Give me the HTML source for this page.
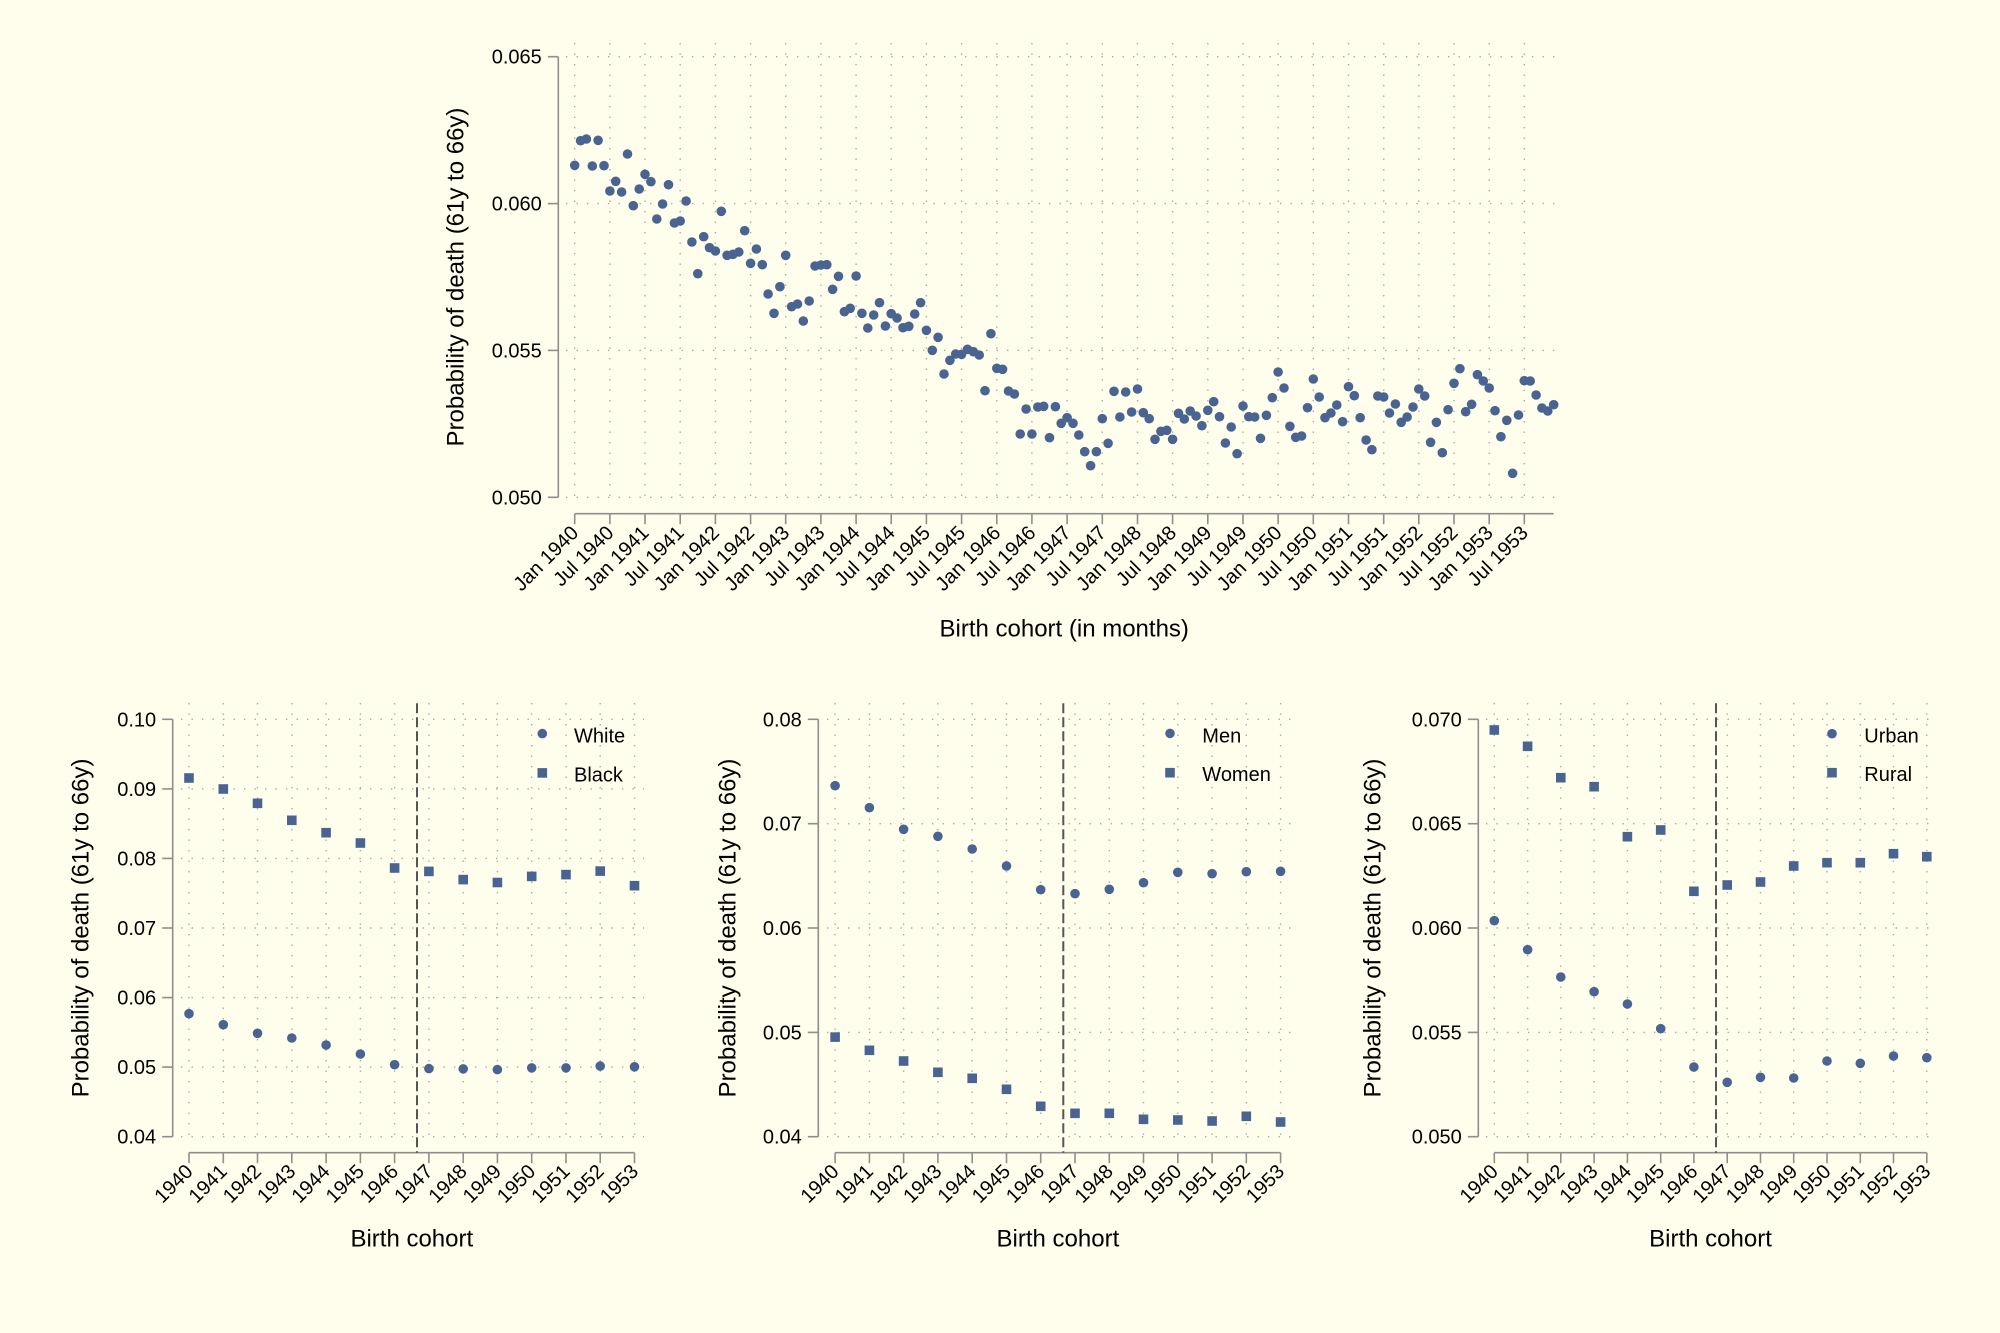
<!DOCTYPE html>
<html><head><meta charset="utf-8"><style>
html,body{margin:0;padding:0;background:#fffeec;}
svg{display:block;font-family:"Liberation Sans",Arial,sans-serif;}
.g line{stroke:#a8a8a8;stroke-width:1.4;stroke-dasharray:1.4 9.1;}
.ax line{stroke:#8e8e8e;stroke-width:1.6;}
.tk{font-size:20px;fill:#000;}
.tt{font-size:24px;fill:#000;}
.dash{stroke:#555;stroke-width:2;stroke-dasharray:10 4;}
</style></head><body>
<svg width="2000" height="1333" viewBox="0 0 2000 1333" xmlns="http://www.w3.org/2000/svg">
<rect width="2000" height="1333" fill="#fffeec"/>

<!-- ================= TOP PLOT ================= -->
<g class="g">
<line x1="566" y1="56.7" x2="1563" y2="56.7"/><line x1="566" y1="203.6" x2="1563" y2="203.6"/><line x1="566" y1="350.4" x2="1563" y2="350.4"/><line x1="566" y1="497.3" x2="1563" y2="497.3"/>
<line x1="574.7" y1="43" x2="574.7" y2="503"/><line x1="609.9" y1="43" x2="609.9" y2="503"/><line x1="645.0" y1="43" x2="645.0" y2="503"/><line x1="680.2" y1="43" x2="680.2" y2="503"/><line x1="715.4" y1="43" x2="715.4" y2="503"/><line x1="750.6" y1="43" x2="750.6" y2="503"/><line x1="785.7" y1="43" x2="785.7" y2="503"/><line x1="820.9" y1="43" x2="820.9" y2="503"/><line x1="856.1" y1="43" x2="856.1" y2="503"/><line x1="891.2" y1="43" x2="891.2" y2="503"/><line x1="926.4" y1="43" x2="926.4" y2="503"/><line x1="961.6" y1="43" x2="961.6" y2="503"/><line x1="996.8" y1="43" x2="996.8" y2="503"/><line x1="1031.9" y1="43" x2="1031.9" y2="503"/><line x1="1067.1" y1="43" x2="1067.1" y2="503"/><line x1="1102.3" y1="43" x2="1102.3" y2="503"/><line x1="1137.5" y1="43" x2="1137.5" y2="503"/><line x1="1172.6" y1="43" x2="1172.6" y2="503"/><line x1="1207.8" y1="43" x2="1207.8" y2="503"/><line x1="1243.0" y1="43" x2="1243.0" y2="503"/><line x1="1278.1" y1="43" x2="1278.1" y2="503"/><line x1="1313.3" y1="43" x2="1313.3" y2="503"/><line x1="1348.5" y1="43" x2="1348.5" y2="503"/><line x1="1383.7" y1="43" x2="1383.7" y2="503"/><line x1="1418.8" y1="43" x2="1418.8" y2="503"/><line x1="1454.0" y1="43" x2="1454.0" y2="503"/><line x1="1489.2" y1="43" x2="1489.2" y2="503"/><line x1="1524.3" y1="43" x2="1524.3" y2="503"/>
</g>
<g class="ax">
<line x1="558.3" y1="56.7" x2="558.3" y2="497.3"/>
<line x1="547.8" y1="56.7" x2="558.3" y2="56.7"/><line x1="547.8" y1="203.6" x2="558.3" y2="203.6"/><line x1="547.8" y1="350.4" x2="558.3" y2="350.4"/><line x1="547.8" y1="497.3" x2="558.3" y2="497.3"/>
<line x1="574.7" y1="513.7" x2="1553.7" y2="513.7"/>
<line x1="574.7" y1="513.7" x2="574.7" y2="524.2"/><line x1="609.9" y1="513.7" x2="609.9" y2="524.2"/><line x1="645.0" y1="513.7" x2="645.0" y2="524.2"/><line x1="680.2" y1="513.7" x2="680.2" y2="524.2"/><line x1="715.4" y1="513.7" x2="715.4" y2="524.2"/><line x1="750.6" y1="513.7" x2="750.6" y2="524.2"/><line x1="785.7" y1="513.7" x2="785.7" y2="524.2"/><line x1="820.9" y1="513.7" x2="820.9" y2="524.2"/><line x1="856.1" y1="513.7" x2="856.1" y2="524.2"/><line x1="891.2" y1="513.7" x2="891.2" y2="524.2"/><line x1="926.4" y1="513.7" x2="926.4" y2="524.2"/><line x1="961.6" y1="513.7" x2="961.6" y2="524.2"/><line x1="996.8" y1="513.7" x2="996.8" y2="524.2"/><line x1="1031.9" y1="513.7" x2="1031.9" y2="524.2"/><line x1="1067.1" y1="513.7" x2="1067.1" y2="524.2"/><line x1="1102.3" y1="513.7" x2="1102.3" y2="524.2"/><line x1="1137.5" y1="513.7" x2="1137.5" y2="524.2"/><line x1="1172.6" y1="513.7" x2="1172.6" y2="524.2"/><line x1="1207.8" y1="513.7" x2="1207.8" y2="524.2"/><line x1="1243.0" y1="513.7" x2="1243.0" y2="524.2"/><line x1="1278.1" y1="513.7" x2="1278.1" y2="524.2"/><line x1="1313.3" y1="513.7" x2="1313.3" y2="524.2"/><line x1="1348.5" y1="513.7" x2="1348.5" y2="524.2"/><line x1="1383.7" y1="513.7" x2="1383.7" y2="524.2"/><line x1="1418.8" y1="513.7" x2="1418.8" y2="524.2"/><line x1="1454.0" y1="513.7" x2="1454.0" y2="524.2"/><line x1="1489.2" y1="513.7" x2="1489.2" y2="524.2"/><line x1="1524.3" y1="513.7" x2="1524.3" y2="524.2"/>
</g>
<g class="tk" text-anchor="end">
<text x="541.8" y="63.7">0.065</text><text x="541.8" y="210.6">0.060</text><text x="541.8" y="357.4">0.055</text><text x="541.8" y="504.3">0.050</text>
</g>
<g class="tk" text-anchor="end">
<text x="574.7" y="529" dy="0.35em" transform="rotate(-45 574.7 529)">Jan 1940</text>
<text x="609.9" y="529" dy="0.35em" transform="rotate(-45 609.9 529)">Jul 1940</text>
<text x="645.0" y="529" dy="0.35em" transform="rotate(-45 645.0 529)">Jan 1941</text>
<text x="680.2" y="529" dy="0.35em" transform="rotate(-45 680.2 529)">Jul 1941</text>
<text x="715.4" y="529" dy="0.35em" transform="rotate(-45 715.4 529)">Jan 1942</text>
<text x="750.6" y="529" dy="0.35em" transform="rotate(-45 750.6 529)">Jul 1942</text>
<text x="785.7" y="529" dy="0.35em" transform="rotate(-45 785.7 529)">Jan 1943</text>
<text x="820.9" y="529" dy="0.35em" transform="rotate(-45 820.9 529)">Jul 1943</text>
<text x="856.1" y="529" dy="0.35em" transform="rotate(-45 856.1 529)">Jan 1944</text>
<text x="891.2" y="529" dy="0.35em" transform="rotate(-45 891.2 529)">Jul 1944</text>
<text x="926.4" y="529" dy="0.35em" transform="rotate(-45 926.4 529)">Jan 1945</text>
<text x="961.6" y="529" dy="0.35em" transform="rotate(-45 961.6 529)">Jul 1945</text>
<text x="996.8" y="529" dy="0.35em" transform="rotate(-45 996.8 529)">Jan 1946</text>
<text x="1031.9" y="529" dy="0.35em" transform="rotate(-45 1031.9 529)">Jul 1946</text>
<text x="1067.1" y="529" dy="0.35em" transform="rotate(-45 1067.1 529)">Jan 1947</text>
<text x="1102.3" y="529" dy="0.35em" transform="rotate(-45 1102.3 529)">Jul 1947</text>
<text x="1137.5" y="529" dy="0.35em" transform="rotate(-45 1137.5 529)">Jan 1948</text>
<text x="1172.6" y="529" dy="0.35em" transform="rotate(-45 1172.6 529)">Jul 1948</text>
<text x="1207.8" y="529" dy="0.35em" transform="rotate(-45 1207.8 529)">Jan 1949</text>
<text x="1243.0" y="529" dy="0.35em" transform="rotate(-45 1243.0 529)">Jul 1949</text>
<text x="1278.1" y="529" dy="0.35em" transform="rotate(-45 1278.1 529)">Jan 1950</text>
<text x="1313.3" y="529" dy="0.35em" transform="rotate(-45 1313.3 529)">Jul 1950</text>
<text x="1348.5" y="529" dy="0.35em" transform="rotate(-45 1348.5 529)">Jan 1951</text>
<text x="1383.7" y="529" dy="0.35em" transform="rotate(-45 1383.7 529)">Jul 1951</text>
<text x="1418.8" y="529" dy="0.35em" transform="rotate(-45 1418.8 529)">Jan 1952</text>
<text x="1454.0" y="529" dy="0.35em" transform="rotate(-45 1454.0 529)">Jul 1952</text>
<text x="1489.2" y="529" dy="0.35em" transform="rotate(-45 1489.2 529)">Jan 1953</text>
<text x="1524.3" y="529" dy="0.35em" transform="rotate(-45 1524.3 529)">Jul 1953</text>
</g>
<text class="tt" x="1064.2" y="636.7" text-anchor="middle">Birth cohort (in months)</text>
<text class="tt" x="463.3" y="277" text-anchor="middle" transform="rotate(-90 463.3 277)">Probability of death (61y to 66y)</text>

<g fill="#4a6491">
<circle cx="574.7" cy="165.3" r="4.8"/><circle cx="580.6" cy="140.7" r="4.8"/><circle cx="586.4" cy="139" r="4.8"/><circle cx="592.3" cy="166" r="4.8"/><circle cx="598.1" cy="140.3" r="4.8"/><circle cx="604.0" cy="165.7" r="4.8"/><circle cx="609.9" cy="191" r="4.8"/><circle cx="615.7" cy="181.3" r="4.8"/><circle cx="621.6" cy="192" r="4.8"/><circle cx="627.5" cy="154" r="4.8"/>
<circle cx="633.3" cy="205.7" r="4.8"/><circle cx="639.2" cy="189" r="4.8"/><circle cx="645.0" cy="174.3" r="4.8"/><circle cx="650.9" cy="181.7" r="4.8"/><circle cx="656.8" cy="219" r="4.8"/><circle cx="662.6" cy="204" r="4.8"/><circle cx="668.5" cy="184.7" r="4.8"/><circle cx="674.4" cy="223" r="4.8"/><circle cx="680.2" cy="221" r="4.8"/><circle cx="686.1" cy="201" r="4.8"/>
<circle cx="691.9" cy="242" r="4.8"/><circle cx="697.8" cy="273.7" r="4.8"/><circle cx="703.7" cy="236.7" r="4.8"/><circle cx="709.5" cy="247.7" r="4.8"/><circle cx="715.4" cy="251" r="4.8"/><circle cx="721.3" cy="211.3" r="4.8"/><circle cx="727.1" cy="255.3" r="4.8"/><circle cx="733.0" cy="254.3" r="4.8"/><circle cx="738.8" cy="252" r="4.8"/><circle cx="744.7" cy="230.7" r="4.8"/>
<circle cx="750.6" cy="263.3" r="4.8"/><circle cx="756.4" cy="249" r="4.8"/><circle cx="762.3" cy="264.7" r="4.8"/><circle cx="768.1" cy="294" r="4.8"/><circle cx="774.0" cy="313.3" r="4.8"/><circle cx="779.9" cy="286.7" r="4.8"/><circle cx="785.7" cy="255.3" r="4.8"/><circle cx="791.6" cy="306.7" r="4.8"/><circle cx="797.5" cy="304" r="4.8"/><circle cx="803.3" cy="321" r="4.8"/>
<circle cx="809.2" cy="301" r="4.8"/><circle cx="815.0" cy="266" r="4.8"/><circle cx="820.9" cy="265" r="4.8"/><circle cx="826.8" cy="264.7" r="4.8"/><circle cx="832.6" cy="289.3" r="4.8"/><circle cx="838.5" cy="276.3" r="4.8"/><circle cx="844.4" cy="311.7" r="4.8"/><circle cx="850.2" cy="308.3" r="4.8"/><circle cx="856.1" cy="276" r="4.8"/><circle cx="861.9" cy="313.3" r="4.8"/>
<circle cx="867.8" cy="328" r="4.8"/><circle cx="873.7" cy="315" r="4.8"/><circle cx="879.5" cy="302.7" r="4.8"/><circle cx="885.4" cy="326" r="4.8"/><circle cx="891.2" cy="313.7" r="4.8"/><circle cx="897.1" cy="318" r="4.8"/><circle cx="903.0" cy="327.7" r="4.8"/><circle cx="908.8" cy="326.3" r="4.8"/><circle cx="914.7" cy="314" r="4.8"/><circle cx="920.6" cy="302.7" r="4.8"/>
<circle cx="926.4" cy="330.3" r="4.8"/><circle cx="932.3" cy="350.3" r="4.8"/><circle cx="938.1" cy="337.3" r="4.8"/><circle cx="944.0" cy="374" r="4.8"/><circle cx="949.9" cy="360.3" r="4.8"/><circle cx="955.7" cy="354" r="4.8"/><circle cx="961.6" cy="354.3" r="4.8"/><circle cx="967.5" cy="349.3" r="4.8"/><circle cx="973.3" cy="351.7" r="4.8"/><circle cx="979.2" cy="355" r="4.8"/>
<circle cx="985.0" cy="390.7" r="4.8"/><circle cx="990.9" cy="333.7" r="4.8"/><circle cx="996.8" cy="368.3" r="4.8"/><circle cx="1002.6" cy="369.3" r="4.8"/><circle cx="1008.5" cy="391" r="4.8"/><circle cx="1014.4" cy="394" r="4.8"/><circle cx="1020.2" cy="434" r="4.8"/><circle cx="1026.1" cy="409" r="4.8"/><circle cx="1031.9" cy="434" r="4.8"/><circle cx="1037.8" cy="407" r="4.8"/>
<circle cx="1043.7" cy="406.3" r="4.8"/><circle cx="1049.5" cy="437.7" r="4.8"/><circle cx="1055.4" cy="406.7" r="4.8"/><circle cx="1061.2" cy="423.3" r="4.8"/><circle cx="1067.1" cy="417.7" r="4.8"/><circle cx="1073.0" cy="423.3" r="4.8"/><circle cx="1078.8" cy="435" r="4.8"/><circle cx="1084.7" cy="451.7" r="4.8"/><circle cx="1090.6" cy="465.7" r="4.8"/><circle cx="1096.4" cy="451.7" r="4.8"/>
<circle cx="1102.3" cy="418.7" r="4.8"/><circle cx="1108.1" cy="443.3" r="4.8"/><circle cx="1114.0" cy="391.3" r="4.8"/><circle cx="1119.9" cy="417" r="4.8"/><circle cx="1125.7" cy="392" r="4.8"/><circle cx="1131.6" cy="412" r="4.8"/><circle cx="1137.5" cy="389" r="4.8"/><circle cx="1143.3" cy="412.7" r="4.8"/><circle cx="1149.2" cy="418.7" r="4.8"/><circle cx="1155.0" cy="439.3" r="4.8"/>
<circle cx="1160.9" cy="431.3" r="4.8"/><circle cx="1166.8" cy="430.3" r="4.8"/><circle cx="1172.6" cy="439.3" r="4.8"/><circle cx="1178.5" cy="413.3" r="4.8"/><circle cx="1184.3" cy="419" r="4.8"/><circle cx="1190.2" cy="411" r="4.8"/><circle cx="1196.1" cy="416" r="4.8"/><circle cx="1201.9" cy="425.7" r="4.8"/><circle cx="1207.8" cy="410.3" r="4.8"/><circle cx="1213.7" cy="401.7" r="4.8"/>
<circle cx="1219.5" cy="416.7" r="4.8"/><circle cx="1225.4" cy="443" r="4.8"/><circle cx="1231.2" cy="427" r="4.8"/><circle cx="1237.1" cy="453.7" r="4.8"/><circle cx="1243.0" cy="406" r="4.8"/><circle cx="1248.8" cy="416.7" r="4.8"/><circle cx="1254.7" cy="417" r="4.8"/><circle cx="1260.5" cy="438.3" r="4.8"/><circle cx="1266.4" cy="415.3" r="4.8"/><circle cx="1272.3" cy="397.7" r="4.8"/>
<circle cx="1278.1" cy="372" r="4.8"/><circle cx="1284.0" cy="388" r="4.8"/><circle cx="1289.9" cy="426.3" r="4.8"/><circle cx="1295.7" cy="437.3" r="4.8"/><circle cx="1301.6" cy="436" r="4.8"/><circle cx="1307.5" cy="407.7" r="4.8"/><circle cx="1313.3" cy="379" r="4.8"/><circle cx="1319.2" cy="397" r="4.8"/><circle cx="1325.0" cy="417.7" r="4.8"/><circle cx="1330.9" cy="413" r="4.8"/>
<circle cx="1336.8" cy="405" r="4.8"/><circle cx="1342.6" cy="421.7" r="4.8"/><circle cx="1348.5" cy="386.7" r="4.8"/><circle cx="1354.3" cy="395.7" r="4.8"/><circle cx="1360.2" cy="417.7" r="4.8"/><circle cx="1366.1" cy="440" r="4.8"/><circle cx="1371.9" cy="449.7" r="4.8"/><circle cx="1377.8" cy="396" r="4.8"/><circle cx="1383.7" cy="397" r="4.8"/><circle cx="1389.5" cy="413" r="4.8"/>
<circle cx="1395.4" cy="404" r="4.8"/><circle cx="1401.2" cy="422.3" r="4.8"/><circle cx="1407.1" cy="417" r="4.8"/><circle cx="1413.0" cy="407" r="4.8"/><circle cx="1418.8" cy="389" r="4.8"/><circle cx="1424.7" cy="396" r="4.8"/><circle cx="1430.6" cy="442.3" r="4.8"/><circle cx="1436.4" cy="422.3" r="4.8"/><circle cx="1442.3" cy="452.7" r="4.8"/><circle cx="1448.1" cy="409.7" r="4.8"/>
<circle cx="1454.0" cy="383.3" r="4.8"/><circle cx="1459.9" cy="368.7" r="4.8"/><circle cx="1465.7" cy="411.7" r="4.8"/><circle cx="1471.6" cy="404.3" r="4.8"/><circle cx="1477.4" cy="374.7" r="4.8"/><circle cx="1483.3" cy="381" r="4.8"/><circle cx="1489.2" cy="388" r="4.8"/><circle cx="1495.0" cy="410.7" r="4.8"/><circle cx="1500.9" cy="436.7" r="4.8"/><circle cx="1506.8" cy="420.3" r="4.8"/>
<circle cx="1512.6" cy="473.3" r="4.8"/><circle cx="1518.5" cy="415" r="4.8"/><circle cx="1524.3" cy="380.7" r="4.8"/><circle cx="1530.2" cy="381" r="4.8"/><circle cx="1536.1" cy="395" r="4.8"/><circle cx="1541.9" cy="408" r="4.8"/><circle cx="1547.8" cy="411" r="4.8"/><circle cx="1553.7" cy="404.7" r="4.8"/>
</g>

<!-- ================= PANEL 1 ================= -->
<g class="g">
<line x1="181" y1="719.3" x2="644" y2="719.3"/><line x1="181" y1="788.9" x2="644" y2="788.9"/><line x1="181" y1="858.4" x2="644" y2="858.4"/><line x1="181" y1="928" x2="644" y2="928"/><line x1="181" y1="997.6" x2="644" y2="997.6"/><line x1="181" y1="1067.1" x2="644" y2="1067.1"/><line x1="181" y1="1136.7" x2="644" y2="1136.7"/>
<line x1="189" y1="703" x2="189" y2="1143"/><line x1="223.3" y1="703" x2="223.3" y2="1143"/><line x1="257.5" y1="703" x2="257.5" y2="1143"/><line x1="291.8" y1="703" x2="291.8" y2="1143"/><line x1="326.1" y1="703" x2="326.1" y2="1143"/><line x1="360.4" y1="703" x2="360.4" y2="1143"/><line x1="394.6" y1="703" x2="394.6" y2="1143"/><line x1="428.9" y1="703" x2="428.9" y2="1143"/><line x1="463.2" y1="703" x2="463.2" y2="1143"/><line x1="497.4" y1="703" x2="497.4" y2="1143"/><line x1="531.7" y1="703" x2="531.7" y2="1143"/><line x1="566.0" y1="703" x2="566.0" y2="1143"/><line x1="600.2" y1="703" x2="600.2" y2="1143"/><line x1="634.5" y1="703" x2="634.5" y2="1143"/>
</g>
<g class="ax">
<line x1="172.7" y1="719.3" x2="172.7" y2="1136.7"/>
<line x1="162.2" y1="719.3" x2="172.7" y2="719.3"/><line x1="162.2" y1="788.9" x2="172.7" y2="788.9"/><line x1="162.2" y1="858.4" x2="172.7" y2="858.4"/><line x1="162.2" y1="928" x2="172.7" y2="928"/><line x1="162.2" y1="997.6" x2="172.7" y2="997.6"/><line x1="162.2" y1="1067.1" x2="172.7" y2="1067.1"/><line x1="162.2" y1="1136.7" x2="172.7" y2="1136.7"/>
<line x1="189" y1="1152.7" x2="634.5" y2="1152.7"/>
<line x1="189" y1="1152.7" x2="189" y2="1163.2"/><line x1="223.3" y1="1152.7" x2="223.3" y2="1163.2"/><line x1="257.5" y1="1152.7" x2="257.5" y2="1163.2"/><line x1="291.8" y1="1152.7" x2="291.8" y2="1163.2"/><line x1="326.1" y1="1152.7" x2="326.1" y2="1163.2"/><line x1="360.4" y1="1152.7" x2="360.4" y2="1163.2"/><line x1="394.6" y1="1152.7" x2="394.6" y2="1163.2"/><line x1="428.9" y1="1152.7" x2="428.9" y2="1163.2"/><line x1="463.2" y1="1152.7" x2="463.2" y2="1163.2"/><line x1="497.4" y1="1152.7" x2="497.4" y2="1163.2"/><line x1="531.7" y1="1152.7" x2="531.7" y2="1163.2"/><line x1="566.0" y1="1152.7" x2="566.0" y2="1163.2"/><line x1="600.2" y1="1152.7" x2="600.2" y2="1163.2"/><line x1="634.5" y1="1152.7" x2="634.5" y2="1163.2"/>
</g>
<line class="dash" x1="417" y1="703.3" x2="417" y2="1152.7"/>
<g class="tk" text-anchor="end">
<text x="156.2" y="726.3">0.10</text><text x="156.2" y="795.9">0.09</text><text x="156.2" y="865.4">0.08</text><text x="156.2" y="935">0.07</text><text x="156.2" y="1004.6">0.06</text><text x="156.2" y="1074.1">0.05</text><text x="156.2" y="1143.7">0.04</text>
</g>
<g class="tk" text-anchor="end">
<text x="189" y="1167.7" dy="0.35em" transform="rotate(-45 189 1167.7)">1940</text>
<text x="223.3" y="1167.7" dy="0.35em" transform="rotate(-45 223.3 1167.7)">1941</text>
<text x="257.5" y="1167.7" dy="0.35em" transform="rotate(-45 257.5 1167.7)">1942</text>
<text x="291.8" y="1167.7" dy="0.35em" transform="rotate(-45 291.8 1167.7)">1943</text>
<text x="326.1" y="1167.7" dy="0.35em" transform="rotate(-45 326.1 1167.7)">1944</text>
<text x="360.4" y="1167.7" dy="0.35em" transform="rotate(-45 360.4 1167.7)">1945</text>
<text x="394.6" y="1167.7" dy="0.35em" transform="rotate(-45 394.6 1167.7)">1946</text>
<text x="428.9" y="1167.7" dy="0.35em" transform="rotate(-45 428.9 1167.7)">1947</text>
<text x="463.2" y="1167.7" dy="0.35em" transform="rotate(-45 463.2 1167.7)">1948</text>
<text x="497.4" y="1167.7" dy="0.35em" transform="rotate(-45 497.4 1167.7)">1949</text>
<text x="531.7" y="1167.7" dy="0.35em" transform="rotate(-45 531.7 1167.7)">1950</text>
<text x="566.0" y="1167.7" dy="0.35em" transform="rotate(-45 566.0 1167.7)">1951</text>
<text x="600.2" y="1167.7" dy="0.35em" transform="rotate(-45 600.2 1167.7)">1952</text>
<text x="634.5" y="1167.7" dy="0.35em" transform="rotate(-45 634.5 1167.7)">1953</text>
</g>
<text class="tt" x="411.8" y="1246.7" text-anchor="middle">Birth cohort</text>
<text class="tt" x="88.5" y="928" text-anchor="middle" transform="rotate(-90 88.5 928)">Probability of death (61y to 66y)</text>
<g fill="#4a6491">
<rect x="184.2" y="773.2" width="9.6" height="9.6"/><rect x="218.5" y="784.2" width="9.6" height="9.6"/><rect x="252.7" y="798.5" width="9.6" height="9.6"/><rect x="287" y="815.5" width="9.6" height="9.6"/><rect x="321.3" y="827.9" width="9.6" height="9.6"/><rect x="355.6" y="838.2" width="9.6" height="9.6"/><rect x="389.8" y="863.2" width="9.6" height="9.6"/><rect x="424.1" y="866.6" width="9.6" height="9.6"/><rect x="458.4" y="874.8" width="9.6" height="9.6"/><rect x="492.6" y="877.7" width="9.6" height="9.6"/><rect x="526.9" y="871.6" width="9.6" height="9.6"/><rect x="561.2" y="869.8" width="9.6" height="9.6"/><rect x="595.4" y="866.3" width="9.6" height="9.6"/><rect x="629.7" y="880.9" width="9.6" height="9.6"/>
<circle cx="189" cy="1013.7" r="4.8"/><circle cx="223.3" cy="1024.7" r="4.8"/><circle cx="257.5" cy="1033.3" r="4.8"/><circle cx="291.8" cy="1038" r="4.8"/><circle cx="326.1" cy="1045" r="4.8"/><circle cx="360.4" cy="1054" r="4.8"/><circle cx="394.6" cy="1064.7" r="4.8"/><circle cx="428.9" cy="1068.6" r="4.8"/><circle cx="463.2" cy="1068.9" r="4.8"/><circle cx="497.4" cy="1069.6" r="4.8"/><circle cx="531.7" cy="1067.9" r="4.8"/><circle cx="566.0" cy="1067.9" r="4.8"/><circle cx="600.2" cy="1066.1" r="4.8"/><circle cx="634.5" cy="1066.8" r="4.8"/>
<circle cx="542.3" cy="733.6" r="4.8"/><rect x="537.5" y="768.1" width="9.6" height="9.6"/>
</g>
<g class="tk"><text x="574" y="742.5">White</text><text x="574" y="781.5">Black</text></g>

<!-- ================= PANEL 2 ================= -->
<g class="g">
<line x1="827" y1="719.3" x2="1291" y2="719.3"/><line x1="827" y1="823.7" x2="1291" y2="823.7"/><line x1="827" y1="928" x2="1291" y2="928"/><line x1="827" y1="1032.4" x2="1291" y2="1032.4"/><line x1="827" y1="1136.7" x2="1291" y2="1136.7"/>
<line x1="835.1" y1="703" x2="835.1" y2="1143"/><line x1="869.4" y1="703" x2="869.4" y2="1143"/><line x1="903.6" y1="703" x2="903.6" y2="1143"/><line x1="937.9" y1="703" x2="937.9" y2="1143"/><line x1="972.2" y1="703" x2="972.2" y2="1143"/><line x1="1006.5" y1="703" x2="1006.5" y2="1143"/><line x1="1040.7" y1="703" x2="1040.7" y2="1143"/><line x1="1075.0" y1="703" x2="1075.0" y2="1143"/><line x1="1109.3" y1="703" x2="1109.3" y2="1143"/><line x1="1143.5" y1="703" x2="1143.5" y2="1143"/><line x1="1177.8" y1="703" x2="1177.8" y2="1143"/><line x1="1212.1" y1="703" x2="1212.1" y2="1143"/><line x1="1246.3" y1="703" x2="1246.3" y2="1143"/><line x1="1280.6" y1="703" x2="1280.6" y2="1143"/>
</g>
<g class="ax">
<line x1="818.3" y1="719.3" x2="818.3" y2="1136.7"/>
<line x1="807.8" y1="719.3" x2="818.3" y2="719.3"/><line x1="807.8" y1="823.7" x2="818.3" y2="823.7"/><line x1="807.8" y1="928" x2="818.3" y2="928"/><line x1="807.8" y1="1032.4" x2="818.3" y2="1032.4"/><line x1="807.8" y1="1136.7" x2="818.3" y2="1136.7"/>
<line x1="835.1" y1="1152.7" x2="1280.6" y2="1152.7"/>
<line x1="835.1" y1="1152.7" x2="835.1" y2="1163.2"/><line x1="869.4" y1="1152.7" x2="869.4" y2="1163.2"/><line x1="903.6" y1="1152.7" x2="903.6" y2="1163.2"/><line x1="937.9" y1="1152.7" x2="937.9" y2="1163.2"/><line x1="972.2" y1="1152.7" x2="972.2" y2="1163.2"/><line x1="1006.5" y1="1152.7" x2="1006.5" y2="1163.2"/><line x1="1040.7" y1="1152.7" x2="1040.7" y2="1163.2"/><line x1="1075.0" y1="1152.7" x2="1075.0" y2="1163.2"/><line x1="1109.3" y1="1152.7" x2="1109.3" y2="1163.2"/><line x1="1143.5" y1="1152.7" x2="1143.5" y2="1163.2"/><line x1="1177.8" y1="1152.7" x2="1177.8" y2="1163.2"/><line x1="1212.1" y1="1152.7" x2="1212.1" y2="1163.2"/><line x1="1246.3" y1="1152.7" x2="1246.3" y2="1163.2"/><line x1="1280.6" y1="1152.7" x2="1280.6" y2="1163.2"/>
</g>
<line class="dash" x1="1063.3" y1="703.3" x2="1063.3" y2="1152.7"/>
<g class="tk" text-anchor="end">
<text x="801.8" y="726.3">0.08</text><text x="801.8" y="830.7">0.07</text><text x="801.8" y="935">0.06</text><text x="801.8" y="1039.4">0.05</text><text x="801.8" y="1143.7">0.04</text>
</g>
<g class="tk" text-anchor="end">
<text x="835.1" y="1167.7" dy="0.35em" transform="rotate(-45 835.1 1167.7)">1940</text>
<text x="869.4" y="1167.7" dy="0.35em" transform="rotate(-45 869.4 1167.7)">1941</text>
<text x="903.6" y="1167.7" dy="0.35em" transform="rotate(-45 903.6 1167.7)">1942</text>
<text x="937.9" y="1167.7" dy="0.35em" transform="rotate(-45 937.9 1167.7)">1943</text>
<text x="972.2" y="1167.7" dy="0.35em" transform="rotate(-45 972.2 1167.7)">1944</text>
<text x="1006.5" y="1167.7" dy="0.35em" transform="rotate(-45 1006.5 1167.7)">1945</text>
<text x="1040.7" y="1167.7" dy="0.35em" transform="rotate(-45 1040.7 1167.7)">1946</text>
<text x="1075.0" y="1167.7" dy="0.35em" transform="rotate(-45 1075.0 1167.7)">1947</text>
<text x="1109.3" y="1167.7" dy="0.35em" transform="rotate(-45 1109.3 1167.7)">1948</text>
<text x="1143.5" y="1167.7" dy="0.35em" transform="rotate(-45 1143.5 1167.7)">1949</text>
<text x="1177.8" y="1167.7" dy="0.35em" transform="rotate(-45 1177.8 1167.7)">1950</text>
<text x="1212.1" y="1167.7" dy="0.35em" transform="rotate(-45 1212.1 1167.7)">1951</text>
<text x="1246.3" y="1167.7" dy="0.35em" transform="rotate(-45 1246.3 1167.7)">1952</text>
<text x="1280.6" y="1167.7" dy="0.35em" transform="rotate(-45 1280.6 1167.7)">1953</text>
</g>
<text class="tt" x="1057.9" y="1246.7" text-anchor="middle">Birth cohort</text>
<text class="tt" x="735.5" y="928" text-anchor="middle" transform="rotate(-90 735.5 928)">Probability of death (61y to 66y)</text>
<g fill="#4a6491">
<circle cx="835.1" cy="785.7" r="4.8"/><circle cx="869.4" cy="807.7" r="4.8"/><circle cx="903.6" cy="829.3" r="4.8"/><circle cx="937.9" cy="836.3" r="4.8"/><circle cx="972.2" cy="849" r="4.8"/><circle cx="1006.5" cy="866" r="4.8"/><circle cx="1040.7" cy="889.7" r="4.8"/><circle cx="1075.0" cy="893.7" r="4.8"/><circle cx="1109.3" cy="889.3" r="4.8"/><circle cx="1143.5" cy="882.7" r="4.8"/><circle cx="1177.8" cy="872.3" r="4.8"/><circle cx="1212.1" cy="873.7" r="4.8"/><circle cx="1246.3" cy="871.7" r="4.8"/><circle cx="1280.6" cy="871.3" r="4.8"/>
<rect x="830.3" y="1032.3" width="9.6" height="9.6"/><rect x="864.6" y="1045.5" width="9.6" height="9.6"/><rect x="898.8" y="1056.2" width="9.6" height="9.6"/><rect x="933.1" y="1067.5" width="9.6" height="9.6"/><rect x="967.4" y="1073.5" width="9.6" height="9.6"/><rect x="1001.7" y="1084.5" width="9.6" height="9.6"/><rect x="1035.9" y="1101.5" width="9.6" height="9.6"/><rect x="1070.2" y="1108.5" width="9.6" height="9.6"/><rect x="1104.5" y="1108.5" width="9.6" height="9.6"/><rect x="1138.7" y="1114.5" width="9.6" height="9.6"/><rect x="1173" y="1115.2" width="9.6" height="9.6"/><rect x="1207.3" y="1116.2" width="9.6" height="9.6"/><rect x="1241.5" y="1111.5" width="9.6" height="9.6"/><rect x="1275.8" y="1117.2" width="9.6" height="9.6"/>
<circle cx="1170" cy="733.4" r="4.8"/><rect x="1165.2" y="767.9" width="9.6" height="9.6"/>
</g>
<g class="tk"><text x="1202.3" y="742.3">Men</text><text x="1202.3" y="781">Women</text></g>

<!-- ================= PANEL 3 ================= -->
<g class="g">
<line x1="1486" y1="719.3" x2="1937" y2="719.3"/><line x1="1486" y1="823.7" x2="1937" y2="823.7"/><line x1="1486" y1="928" x2="1937" y2="928"/><line x1="1486" y1="1032.4" x2="1937" y2="1032.4"/><line x1="1486" y1="1136.7" x2="1937" y2="1136.7"/>
<line x1="1494.3" y1="703" x2="1494.3" y2="1143"/><line x1="1527.6" y1="703" x2="1527.6" y2="1143"/><line x1="1560.8" y1="703" x2="1560.8" y2="1143"/><line x1="1594.1" y1="703" x2="1594.1" y2="1143"/><line x1="1627.4" y1="703" x2="1627.4" y2="1143"/><line x1="1660.7" y1="703" x2="1660.7" y2="1143"/><line x1="1693.9" y1="703" x2="1693.9" y2="1143"/><line x1="1727.2" y1="703" x2="1727.2" y2="1143"/><line x1="1760.5" y1="703" x2="1760.5" y2="1143"/><line x1="1793.7" y1="703" x2="1793.7" y2="1143"/><line x1="1827.0" y1="703" x2="1827.0" y2="1143"/><line x1="1860.3" y1="703" x2="1860.3" y2="1143"/><line x1="1893.5" y1="703" x2="1893.5" y2="1143"/><line x1="1926.8" y1="703" x2="1926.8" y2="1143"/>
</g>
<g class="ax">
<line x1="1478.3" y1="719.3" x2="1478.3" y2="1136.7"/>
<line x1="1467.8" y1="719.3" x2="1478.3" y2="719.3"/><line x1="1467.8" y1="823.7" x2="1478.3" y2="823.7"/><line x1="1467.8" y1="928" x2="1478.3" y2="928"/><line x1="1467.8" y1="1032.4" x2="1478.3" y2="1032.4"/><line x1="1467.8" y1="1136.7" x2="1478.3" y2="1136.7"/>
<line x1="1494.3" y1="1152.7" x2="1926.8" y2="1152.7"/>
<line x1="1494.3" y1="1152.7" x2="1494.3" y2="1163.2"/><line x1="1527.6" y1="1152.7" x2="1527.6" y2="1163.2"/><line x1="1560.8" y1="1152.7" x2="1560.8" y2="1163.2"/><line x1="1594.1" y1="1152.7" x2="1594.1" y2="1163.2"/><line x1="1627.4" y1="1152.7" x2="1627.4" y2="1163.2"/><line x1="1660.7" y1="1152.7" x2="1660.7" y2="1163.2"/><line x1="1693.9" y1="1152.7" x2="1693.9" y2="1163.2"/><line x1="1727.2" y1="1152.7" x2="1727.2" y2="1163.2"/><line x1="1760.5" y1="1152.7" x2="1760.5" y2="1163.2"/><line x1="1793.7" y1="1152.7" x2="1793.7" y2="1163.2"/><line x1="1827.0" y1="1152.7" x2="1827.0" y2="1163.2"/><line x1="1860.3" y1="1152.7" x2="1860.3" y2="1163.2"/><line x1="1893.5" y1="1152.7" x2="1893.5" y2="1163.2"/><line x1="1926.8" y1="1152.7" x2="1926.8" y2="1163.2"/>
</g>
<line class="dash" x1="1716" y1="703.3" x2="1716" y2="1152.7"/>
<g class="tk" text-anchor="end">
<text x="1461.8" y="726.3">0.070</text><text x="1461.8" y="830.7">0.065</text><text x="1461.8" y="935">0.060</text><text x="1461.8" y="1039.4">0.055</text><text x="1461.8" y="1143.7">0.050</text>
</g>
<g class="tk" text-anchor="end">
<text x="1494.3" y="1167.7" dy="0.35em" transform="rotate(-45 1494.3 1167.7)">1940</text>
<text x="1527.6" y="1167.7" dy="0.35em" transform="rotate(-45 1527.6 1167.7)">1941</text>
<text x="1560.8" y="1167.7" dy="0.35em" transform="rotate(-45 1560.8 1167.7)">1942</text>
<text x="1594.1" y="1167.7" dy="0.35em" transform="rotate(-45 1594.1 1167.7)">1943</text>
<text x="1627.4" y="1167.7" dy="0.35em" transform="rotate(-45 1627.4 1167.7)">1944</text>
<text x="1660.7" y="1167.7" dy="0.35em" transform="rotate(-45 1660.7 1167.7)">1945</text>
<text x="1693.9" y="1167.7" dy="0.35em" transform="rotate(-45 1693.9 1167.7)">1946</text>
<text x="1727.2" y="1167.7" dy="0.35em" transform="rotate(-45 1727.2 1167.7)">1947</text>
<text x="1760.5" y="1167.7" dy="0.35em" transform="rotate(-45 1760.5 1167.7)">1948</text>
<text x="1793.7" y="1167.7" dy="0.35em" transform="rotate(-45 1793.7 1167.7)">1949</text>
<text x="1827.0" y="1167.7" dy="0.35em" transform="rotate(-45 1827.0 1167.7)">1950</text>
<text x="1860.3" y="1167.7" dy="0.35em" transform="rotate(-45 1860.3 1167.7)">1951</text>
<text x="1893.5" y="1167.7" dy="0.35em" transform="rotate(-45 1893.5 1167.7)">1952</text>
<text x="1926.8" y="1167.7" dy="0.35em" transform="rotate(-45 1926.8 1167.7)">1953</text>
</g>
<text class="tt" x="1710.5" y="1246.7" text-anchor="middle">Birth cohort</text>
<text class="tt" x="1380.5" y="928" text-anchor="middle" transform="rotate(-90 1380.5 928)">Probability of death (61y to 66y)</text>
<g fill="#4a6491">
<rect x="1489.5" y="725.2" width="9.6" height="9.6"/><rect x="1522.8" y="741.5" width="9.6" height="9.6"/><rect x="1556" y="772.9" width="9.6" height="9.6"/><rect x="1589.3" y="781.9" width="9.6" height="9.6"/><rect x="1622.6" y="831.9" width="9.6" height="9.6"/><rect x="1655.9" y="825.2" width="9.6" height="9.6"/><rect x="1689.1" y="886.5" width="9.6" height="9.6"/><rect x="1722.4" y="880.2" width="9.6" height="9.6"/><rect x="1755.7" y="877.2" width="9.6" height="9.6"/><rect x="1788.9" y="861.2" width="9.6" height="9.6"/><rect x="1822.2" y="857.9" width="9.6" height="9.6"/><rect x="1855.5" y="857.9" width="9.6" height="9.6"/><rect x="1888.7" y="848.9" width="9.6" height="9.6"/><rect x="1922" y="851.9" width="9.6" height="9.6"/>
<circle cx="1494.3" cy="920.7" r="4.8"/><circle cx="1527.6" cy="949.7" r="4.8"/><circle cx="1560.8" cy="977" r="4.8"/><circle cx="1594.1" cy="991.7" r="4.8"/><circle cx="1627.4" cy="1004" r="4.8"/><circle cx="1660.7" cy="1028.7" r="4.8"/><circle cx="1693.9" cy="1067" r="4.8"/><circle cx="1727.2" cy="1082.3" r="4.8"/><circle cx="1760.5" cy="1077.3" r="4.8"/><circle cx="1793.7" cy="1078" r="4.8"/><circle cx="1827.0" cy="1061" r="4.8"/><circle cx="1860.3" cy="1063.3" r="4.8"/><circle cx="1893.5" cy="1056" r="4.8"/><circle cx="1926.8" cy="1057.7" r="4.8"/>
<circle cx="1832" cy="733.7" r="4.8"/><rect x="1827.2" y="767.9" width="9.6" height="9.6"/>
</g>
<g class="tk"><text x="1864.3" y="742.4">Urban</text><text x="1864.3" y="781">Rural</text></g>
</svg>
</body></html>
